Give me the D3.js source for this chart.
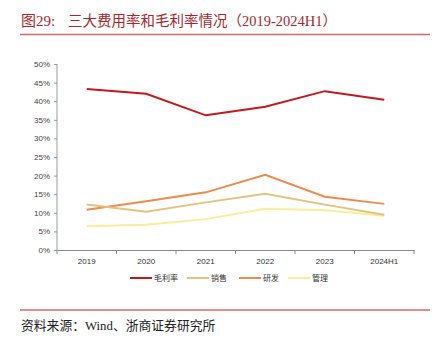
<!DOCTYPE html>
<html>
<head>
<meta charset="utf-8">
<script src="https://cdn.jsdelivr.net/npm/d3@7"></script>
<style>
  body { margin: 0; background: #fff; }
  svg { display: block; }
</style>
</head>
<body>
<svg id="chart" width="439" height="338"></svg>
<script>
// data
const years = ["2019", "2020", "2021", "2022", "2023", "2024H1"];
const grossMargin = [43.3, 42.0, 36.2, 38.5, 42.7, 40.4];
const salesRate = [12.2, 10.3, 12.8, 15.1, 12.2, 9.5];
const rdRate = [10.8, 13.1, 15.5, 20.2, 14.3, 12.4];
const adminRate = [6.4, 6.8, 8.3, 11.1, 10.7, 9.2];
const yTicks = [0, 5, 10, 15, 20, 25, 30, 35, 40, 45, 50];

const series = [
  { name: "毛利率", values: grossMargin, color: "#c8161d" },
  { name: "销售", values: salesRate, color: "#e3c27f" },
  { name: "研发", values: rdRate, color: "#f08a4b" },
  { name: "管理", values: adminRate, color: "#fcec98" }
];

const svg = d3.select("#chart");
const serif = "'Liberation Serif', 'Noto Sans CJK SC', serif";
const sans = "'Liberation Sans', Arial, sans-serif";

// header
svg.append("text")
  .attr("x", 21).attr("y", 26)
  .attr("font-family", serif).attr("font-size", 15)
  .attr("fill", "#a8272d")
  .text("图29:");
svg.append("text")
  .attr("x", 68).attr("y", 26)
  .attr("font-family", serif).attr("font-size", 14.5)
  .attr("fill", "#a8272d")
  .text("三大费用率和毛利率情况（2019-2024H1）");
svg.append("line")
  .attr("x1", 20).attr("x2", 430).attr("y1", 34.5).attr("y2", 34.5)
  .attr("stroke", "#e06666").attr("stroke-width", 1.5);

// plot
const x = d3.scaleBand().domain(years).range([57, 414]);
const y = d3.scaleLinear().domain([0, 50]).range([250, 64]);

const yAxis = svg.append("g")
  .attr("transform", "translate(57,0)")
  .call(d3.axisLeft(y).tickValues(yTicks).tickSize(3).tickFormat(d => d + "%"));
yAxis.select(".domain").attr("stroke", "#999").attr("d", "M0,64V250");
yAxis.selectAll(".tick line").attr("stroke", "#999");
yAxis.selectAll("text").attr("font-family", sans).attr("font-size", 8).attr("fill", "#444").attr("dx", -1);

const xAxis = svg.append("g")
  .attr("transform", "translate(0,250)")
  .call(d3.axisBottom(x).tickSize(0).tickPadding(8));
xAxis.select(".domain").attr("stroke", "#888");
xAxis.selectAll("text").attr("font-family", sans).attr("font-size", 8).attr("fill", "#333");
// tick marks between categories
xAxis.selectAll(".sep")
  .data(d3.range(years.length + 1))
  .join("line")
  .attr("class", "sep")
  .attr("x1", i => x.range()[0] + i * x.step())
  .attr("x2", i => x.range()[0] + i * x.step())
  .attr("y1", 0).attr("y2", 4)
  .attr("stroke", "#888");

const line = d3.line()
  .x((d, i) => x(years[i]) + x.bandwidth() / 2)
  .y(d => y(d));

svg.append("g").selectAll("path")
  .data(series.slice().reverse())
  .join("path")
  .attr("d", s => line(s.values))
  .attr("fill", "none")
  .attr("stroke", s => s.color)
  .attr("stroke-width", 2);

// legend
const legendX = [130, 187, 239, 288];
const lg = svg.append("g").selectAll("g")
  .data(series)
  .join("g")
  .attr("transform", (s, i) => `translate(${legendX[i]},278)`);
lg.append("line")
  .attr("x1", 0).attr("x2", 22)
  .attr("stroke", s => s.color).attr("stroke-width", 2);
lg.append("text")
  .attr("x", 24).attr("y", 3)
  .attr("font-family", "'Noto Sans CJK SC', sans-serif")
  .attr("font-size", 8).attr("fill", "#333")
  .text(s => s.name);

// footer
svg.append("line")
  .attr("x1", 20).attr("x2", 430).attr("y1", 310).attr("y2", 310)
  .attr("stroke", "#e06666").attr("stroke-width", 1.5);
svg.append("text")
  .attr("x", 21).attr("y", 330)
  .attr("font-family", serif).attr("font-size", 12.8)
  .attr("fill", "#222")
  .text("资料来源：Wind、浙商证券研究所");
</script>
</body>
</html>
